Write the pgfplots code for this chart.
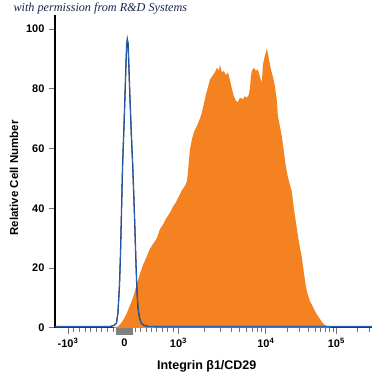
\documentclass[border=0pt]{standalone}
\usepackage{pgfplots}
\pgfplotsset{compat=1.18}
\usepackage{fontspec}
\setmainfont{Liberation Sans}
\newfontfamily\titlefont{Liberation Serif}
\definecolor{ora}{RGB}{245,130,32}
\definecolor{blu}{RGB}{40,100,185}
\definecolor{nav}{RGB}{30,45,95}
\begin{document}
\begin{tikzpicture}
\begin{axis}[
  scale only axis, width=317pt, height=312.5pt,
  xmin=55, xmax=372, ymin=0, ymax=104.5,
  axis x line=bottom, axis y line=left,
  axis line style={-},
  x axis line style={nav, line width=1.3pt},
  y axis line style={black, line width=1.1pt},
  clip=false,
  tick align=outside,
  major tick length=6pt, minor tick length=4pt,
  tick style={black!55, line width=0.8pt},
  ytick={0,20,40,60,80,100},
  yticklabel style={font=\bfseries\fontsize{11}{12}\selectfont, xshift=-1pt},
  /pgf/number format/assume math mode=true,
  xtick={68,124.5,178.5,266,336.5},
  xticklabels={\textbf{-10\textsuperscript{3}},\textbf{0},\textbf{10\textsuperscript{3}},\textbf{10\textsuperscript{4}},\textbf{10\textsuperscript{5}}},
  xticklabel style={font=\fontsize{11}{12}\selectfont, yshift=-1pt},
  minor xtick={73.65,79.3,84.95,90.6,96.25,101.9,107.55,113.2,118.85,
    129.9,135.3,140.7,146.1,151.5,156.9,162.3,167.7,173.1,
    204.8,220.2,231.2,239.7,246.6,252.4,257.5,262,
    287.2,299.6,308.4,315.3,320.9,325.6,329.7,333.3,
    357.7,370},
  xlabel={Integrin β1/CD29},
  xlabel style={font=\bfseries\fontsize{12.5}{14}\selectfont, at={(axis description cs:0.479,-0.1216)}, anchor=center},
  ylabel={Relative Cell Number},
  ylabel style={font=\bfseries\fontsize{11.5}{13}\selectfont, at={(axis description cs:-0.129,0.48)}, anchor=center, rotate=0},
  title={with permission from R\&D Systems},
  title style={font=\titlefont\itshape\fontsize{12.2}{14}\selectfont, text=nav!80!black, at={(axis description cs:-0.142,1.0016)}, anchor=west},
]
\addplot[fill=gray, draw=none] coordinates {(116,-2.5) (133,-2.5) (133,0) (116,0)} -- cycle;
\addplot[fill=ora, draw=none] coordinates {
(113,0) (118,0.5) (121,1.5) (124,3) (127,5) (130,7.5) (133,10) (136,13.5) (140,18) (143,21) (147,24) (150,26.5) (153,28) (157,30) (160,33) (163,34.5) (166,36.5) (170,38.5) (173,40.5) (176,42) (179,44) (182,46) (185,47.5) (187,49) (188,52) (189,56) (190,59.5) (192,63) (194,65.5) (197,67.5) (200,70) (202,72) (204,75) (206,78) (208,80.5) (210,83) (212,84) (215,85.5) (217,87) (219,86) (220,88) (222,85.5) (224,86) (226,84.5) (228,85.5) (230,83) (232,80) (234,77.5) (236,76) (238,75.5) (240,77) (243,76.5) (245,77.5) (247,77) (249,78) (250,80) (251,84) (252,86) (254,87) (256,86) (258,86.5) (260,84) (262,82) (263,88) (265,91) (267,93.5) (269,90) (271,86.5) (273,84) (275,81) (277,76) (278,71) (280,67.5) (282,64) (284,59) (286,54) (288,50.5) (290,48) (292,45.5) (294,40) (296,35.5) (298,31) (300,27) (302,23.5) (304,18.5) (306,14) (308,11) (310,9) (313,7) (316,5) (319,3.5) (322,2) (325,1) (328,0.4) (331,0)
} -- cycle;
\addplot[nav, line width=1.3pt] coordinates {
(55,0.4) (110,0.4) (114,0.8) (116.5,1.5) (118,5) (119.5,14) (120.5,24) (121.5,38) (122.7,55) (124,67) (125,77) (126,88) (126.8,95) (127.4,96.5) (128.2,95) (129,87) (130,77) (131.5,64) (132.7,55) (134,43) (135,33) (136,22) (137,12.7) (138,7) (139.3,3.7) (141,1.8) (143,1) (147,0.5) (155,0.4) (372,0.4)
};
\addplot[blu, line width=0.8pt] coordinates {
(55,0.4) (110,0.4) (114,0.8) (116.5,1.5) (118,5) (119.5,14) (120.5,24) (121.5,38) (122.7,55) (124,67) (125,77) (126,88) (126.8,95) (127.4,96.5) (128.2,95) (129,87) (130,77) (131.5,64) (132.7,55) (134,43) (135,33) (136,22) (137,12.7) (138,7) (139.3,3.7) (141,1.8) (143,1) (147,0.5) (155,0.4) (372,0.4)
};
\end{axis}
\path[use as bounding box] (-55pt,-47pt) rectangle (320pt,328pt);
\end{tikzpicture}
\end{document}
